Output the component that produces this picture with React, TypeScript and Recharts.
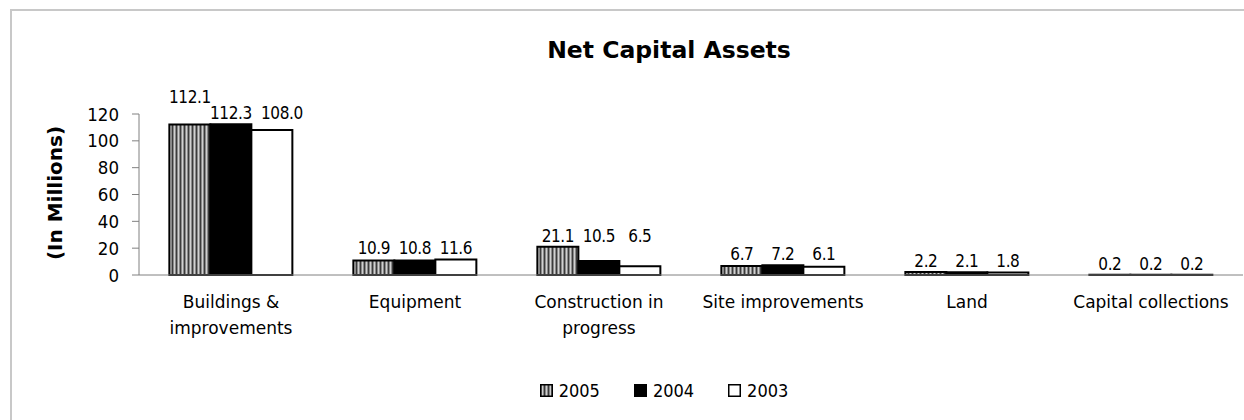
import React from 'react';
import { BarChart, Bar, XAxis, YAxis, Legend, LabelList, Label } from 'recharts';

const categories = [
  'Buildings & improvements',
  'Equipment',
  'Construction in progress',
  'Site improvements',
  'Land',
  'Capital collections',
];
const values2005 = [112.1, 10.9, 21.1, 6.7, 2.2, 0.2];
const values2004 = [112.3, 10.8, 10.5, 7.2, 2.1, 0.2];
const values2003 = [108.0, 11.6, 6.5, 6.1, 1.8, 0.2];
const yTicks = [0, 20, 40, 60, 80, 100, 120];
const seriesKeys = ['s2005', 's2004', 's2003'];
const seriesNames = ['2005', '2004', '2003'];

const FONT = '"DejaVu Sans Condensed", "DejaVu Sans", sans-serif';
const FONT_W = '"DejaVu Sans", sans-serif';

const data = categories.map((name, i) => ({
  name,
  s2005: values2005[i],
  s2004: values2004[i],
  s2003: values2003[i],
  groupMax: Math.max(values2005[i], values2004[i], values2003[i]),
}));

const fills: Record<string, string> = {
  s2005: 'url(#stripes2005)',
  s2004: '#000000',
  s2003: '#ffffff',
};

function wrap(text: string, limit: number): string[] {
  const words = text.split(' ');
  const lines: string[] = [];
  let cur = '';
  for (const w of words) {
    const next = cur ? cur + ' ' + w : w;
    if (next.length > limit && cur) {
      lines.push(cur);
      cur = w;
    } else {
      cur = next;
    }
  }
  if (cur) lines.push(cur);
  return lines;
}

const CategoryTick = (props: any) => {
  const { x, y, payload } = props;
  const lines = wrap(String(payload.value), 19);
  return (
    <g transform={`translate(${x},${y})`}>
      {lines.map((l, i) => (
        <text
          key={i}
          x={0}
          y={0}
          dy={25 + i * 26}
          textAnchor="middle"
          fill="#000"
          fontFamily={FONT_W}
          fontSize={17}
        >
          {l}
        </text>
      ))}
    </g>
  );
};

const makeValueLabel = (seriesIndex: number) => (props: any) => {
  const { x, y, width, height, value, index } = props;
  const row = data[index];
  if (!row || !value) return null;
  const base = y + height;
  const maxTop = base - (height * row.groupMax) / value;
  const text = Number(value).toFixed(1);
  let ly = maxTop - 5;
  let lx = x + width / 2;
  // avoid overlapping long labels, as in the original layout
  if (seriesIndex === 0 && text.length >= 5) ly -= 16;
  if (seriesIndex === 2 && text.length >= 5) lx += 10;
  return (
    <text
      x={lx}
      y={ly}
      textAnchor="middle"
      fill="#000"
      fontFamily={FONT}
      fontSize={17}
      letterSpacing={-0.4}
    >
      {text}
    </text>
  );
};

const LegendContent = () => (
  <div
    style={{
      display: 'flex',
      justifyContent: 'center',
      alignItems: 'center',
      fontFamily: FONT,
      fontSize: 18,
      color: '#000',
      height: 40,
      paddingLeft: 6,
    }}
  >
    {seriesNames.map((n, i) => (
      <div key={n} style={{ display: 'flex', alignItems: 'center', marginRight: i < 2 ? 34 : 0 }}>
        <svg width={13} height={13} style={{ marginRight: 6 }}>
          <rect x={0.75} y={0.75} width={11.5} height={11.5} fill={fills[seriesKeys[i]]} stroke="#000" strokeWidth={1.5} />
        </svg>
        <span>{n}</span>
      </div>
    ))}
  </div>
);

export default function App() {
  return (
    <div
      style={{
        position: 'absolute',
        left: 0,
        top: 0,
        width: 1244,
        height: 420,
        overflow: 'hidden',
        background: '#fff',
      }}
    >
      <div
        style={{
          position: 'absolute',
          left: 10,
          top: 9,
          width: 1300,
          height: 500,
          border: '2px solid #c8c8c8',
          boxSizing: 'border-box',
        }}
      />
      <div
        style={{
          position: 'absolute',
          left: 0,
          top: 36,
          width: 1338,
          textAlign: 'center',
          fontFamily: FONT_W,
          fontWeight: 'bold',
          fontSize: 23.5,
          color: '#000',
        }}
      >
        Net Capital Assets
      </div>
      <div style={{ position: 'absolute', left: 0, top: 0 }}>
        <BarChart
          width={1244}
          height={420}
          data={data}
          margin={{ top: 114, right: 1, bottom: 10, left: 79 }}
          barCategoryGap="16.5%"
          barGap={0}
        >
          <defs>
            <pattern id="stripes2005" width="4" height="4" patternUnits="userSpaceOnUse">
              <rect x="0" y="0" width="4" height="4" fill="#8a8a8a" />
              <rect x="0" y="0" width="1" height="4" fill="#3a3a3a" />
              <rect x="2" y="0" width="1" height="4" fill="#d0d0d0" />
            </pattern>
          </defs>
          <XAxis
            dataKey="name"
            height={95}
            interval={0}
            tick={<CategoryTick />}
            tickLine={false}
            axisLine={{ stroke: '#808080', strokeWidth: 1 }}
          />
          <YAxis
            width={60}
            domain={[0, 120]}
            ticks={yTicks}
            interval={0}
            tickSize={7}
            tickLine={{ stroke: '#808080' }}
            axisLine={{ stroke: '#808080', strokeWidth: 1 }}
            tick={{ fill: '#000', fontFamily: FONT, fontSize: 18.5 }}
            tickMargin={13}
          >
            <Label
              content={() => (
                <text
                  x={0}
                  y={0}
                  transform="translate(55,193) rotate(-90)"
                  textAnchor="middle"
                  dominantBaseline="central"
                  fill="#000"
                  fontFamily={FONT_W}
                  fontWeight="bold"
                  fontSize={20}
                >
                  (In Millions)
                </text>
              )}
            />
          </YAxis>
          <Legend verticalAlign="bottom" height={40} content={<LegendContent />} />
          {seriesKeys.map((k, si) => (
            <Bar
              key={k}
              dataKey={k}
              name={seriesNames[si]}
              fill={fills[k]}
              stroke="#000"
              strokeWidth={2}
              isAnimationActive={false}
            >
              <LabelList dataKey={k} content={makeValueLabel(si)} />
            </Bar>
          ))}
        </BarChart>
      </div>
    </div>
  );
}
